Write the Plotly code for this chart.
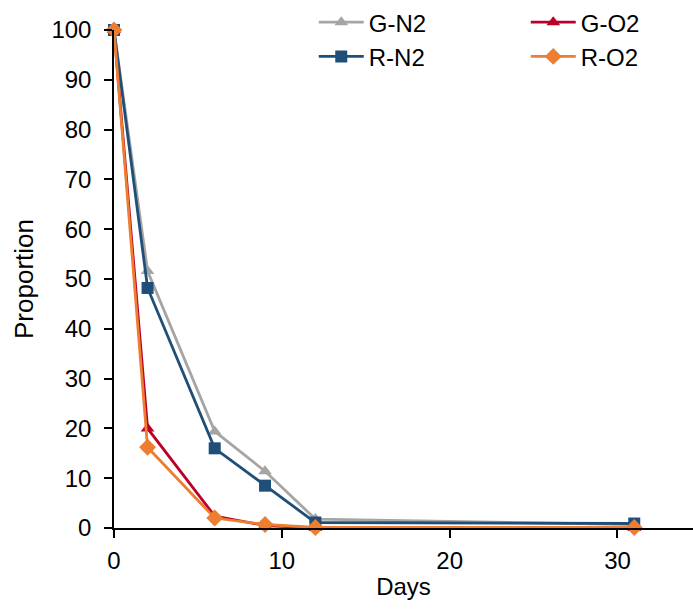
import plotly.graph_objects as go

days = [0, 2, 6, 9, 12, 31]
g_n2 = [100, 51.6, 19.4, 11.4, 1.8, 0.7]
g_o2 = [100, 20.0, 2.4, 0.5, 0.0, 0.0]
r_n2 = [100, 48.2, 16.0, 8.5, 1.1, 0.9]
r_o2 = [100, 16.2, 2.0, 0.7, 0.1, 0.1]

series = [
    ("G-N2", g_n2, "#A5A5A5", "triangle-up", 12),
    ("G-O2", g_o2, "#BA0028", "triangle-up", 12),
    ("R-N2", r_n2, "#1F4E79", "square", 12),
    ("R-O2", r_o2, "#ED7D31", "diamond", 13),
]

font = "Liberation Sans, Arial, sans-serif"
fig = go.Figure()
for name, ys, color, sym, size in series:
    fig.add_trace(go.Scatter(
        x=days, y=ys, name=name, mode="lines+markers",
        line=dict(color=color, width=2.8),
        marker=dict(symbol=sym, size=size, color=color),
        cliponaxis=False,
    ))

fig.update_layout(
    width=693, height=609,
    margin=dict(l=114, r=0, t=30, b=81, autoexpand=False),
    paper_bgcolor="white", plot_bgcolor="white",
    font=dict(family=font, size=24, color="black"),
    showlegend=True,
    legend=dict(
        orientation="h", x=0.345, xanchor="left", y=1.06, yanchor="top",
        entrywidth=152, itemwidth=45, font=dict(family=font, size=24, color="black"),
        bgcolor="rgba(0,0,0,0)", tracegroupgap=0,
    ),
    xaxis=dict(
        range=[0, 34.5], tickvals=[0, 10, 20, 30], showgrid=False, zeroline=False,
        showline=True, linecolor="black", linewidth=1.5,
        ticks="outside", ticklen=8, tickcolor="black", tickwidth=1.5,
        tickfont=dict(family=font, size=24), ticklabelstandoff=2,
        title=dict(text="Days", font=dict(family=font, size=24), standoff=6),
    ),
    yaxis=dict(
        range=[0, 100], dtick=10, showgrid=False, zeroline=False,
        showline=True, linecolor="black", linewidth=1.5,
        ticks="outside", ticklen=8, tickcolor="black", tickwidth=1.5,
        tickfont=dict(family=font, size=24), ticklabelstandoff=8,
        title=dict(text="Proportion", font=dict(family=font, size=26), standoff=10),
    ),
)

fig.write_html("out.html")
